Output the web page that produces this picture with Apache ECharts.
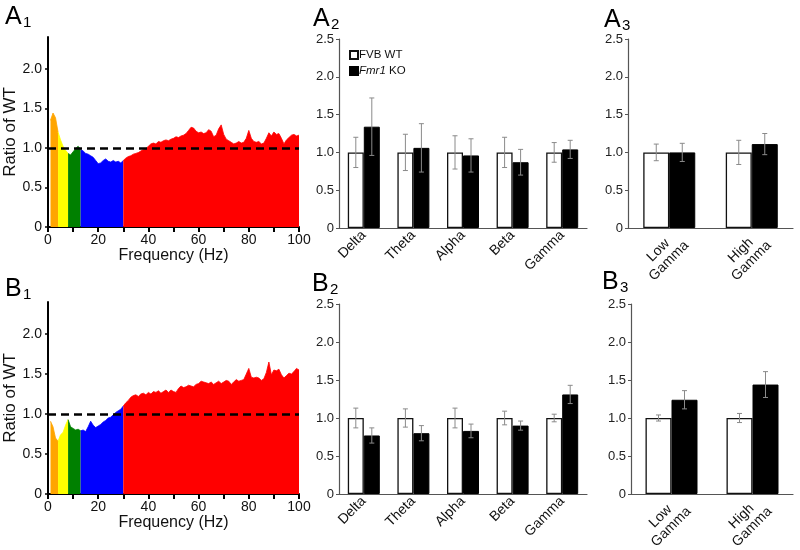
<!DOCTYPE html>
<html>
<head>
<meta charset="utf-8">
<script src="https://cdn.jsdelivr.net/npm/echarts@6/dist/echarts.min.js"></script>
<style>
html, body { margin: 0; padding: 0; background: #fff; }
#main { width: 800px; height: 550px; }
</style>
</head>
<body>
<div id="main"></div>
<script>
// spectra, ratio of WT, 1 Hz bins
var freqHz = [
	1,2,3,4,5,6,7,8,9,10,11,12,13,14,15,16,17,18,19,20,
	21,22,23,24,25,26,27,28,29,30,31,32,33,34,35,36,37,38,39,40,
	41,42,43,44,45,46,47,48,49,50,51,52,53,54,55,56,57,58,59,60,
	61,62,63,64,65,66,67,68,69,70,71,72,73,74,75,76,77,78,79,80,
	81,82,83,84,85,86,87,88,89,90,91,92,93,94,95,96,97,98,99,100
];
var a1Ratio = [
	1.35,1.44,1.38,1.20,1.10,1.02,0.97,0.93,0.91,0.95,
	0.99,1.02,0.98,0.96,0.93,0.92,0.90,0.88,0.84,0.80,
	0.81,0.84,0.86,0.83,0.82,0.84,0.82,0.83,0.81,0.84,
	0.87,0.89,0.90,0.92,0.93,0.94,0.96,0.98,0.99,1.02,
	1.05,1.06,1.05,1.08,1.07,1.09,1.10,1.09,1.11,1.12,
	1.14,1.13,1.15,1.16,1.18,1.22,1.26,1.25,1.21,1.19,
	1.20,1.18,1.19,1.23,1.21,1.14,1.16,1.24,1.29,1.17,
	1.11,1.09,1.07,1.05,1.06,1.08,1.06,1.07,1.12,1.22,
	1.12,1.08,1.07,1.08,1.05,1.06,1.12,1.19,1.15,1.20,
	1.17,1.18,1.12,1.05,1.10,1.13,1.16,1.17,1.15,1.16
];
var b1Ratio = [
	0.91,0.84,0.70,0.66,0.74,0.77,0.86,0.93,0.84,0.82,
	0.80,0.81,0.79,0.80,0.78,0.84,0.91,0.86,0.83,0.85,
	0.87,0.90,0.92,0.95,0.96,0.99,1.02,1.04,1.06,1.10,
	1.14,1.17,1.21,1.23,1.24,1.22,1.25,1.26,1.24,1.27,
	1.25,1.28,1.27,1.29,1.26,1.28,1.30,1.27,1.30,1.28,
	1.27,1.32,1.35,1.33,1.34,1.36,1.35,1.34,1.37,1.38,
	1.41,1.40,1.39,1.38,1.40,1.37,1.39,1.41,1.38,1.40,
	1.42,1.41,1.37,1.40,1.43,1.41,1.42,1.43,1.50,1.57,
	1.46,1.45,1.46,1.45,1.42,1.44,1.52,1.65,1.49,1.55,
	1.54,1.56,1.49,1.45,1.48,1.51,1.50,1.53,1.57,1.55
];
var bandEdges = [1, 4, 8, 13, 30, 100];
var bandColors = ['#ffa500', '#ffff00', '#008000', '#0000ff', '#ff0000'];

// band power bars (mean, error)
var bandNames = ['Delta', 'Theta', 'Alpha', 'Beta', 'Gamma'];
var gammaNames = ['Low\nGamma', 'High\nGamma'];
var a2WtMean = [1.00, 1.00, 1.00, 1.00, 1.00];
var a2WtErr  = [0.20, 0.24, 0.22, 0.20, 0.13];
var a2KoMean = [1.34, 1.06, 0.96, 0.87, 1.04];
var a2KoErr  = [0.38, 0.32, 0.22, 0.17, 0.12];
var a3WtMean = [1.00, 1.00];
var a3WtErr  = [0.11, 0.16];
var a3KoMean = [1.00, 1.11];
var a3KoErr  = [0.12, 0.14];
var b2WtMean = [1.00, 1.00, 1.00, 1.00, 1.00];
var b2WtErr  = [0.13, 0.12, 0.13, 0.09, 0.05];
var b2KoMean = [0.77, 0.80, 0.83, 0.90, 1.31];
var b2KoErr  = [0.10, 0.10, 0.09, 0.06, 0.12];
var b3WtMean = [1.00, 1.00];
var b3WtErr  = [0.04, 0.06];
var b3KoMean = [1.24, 1.44];
var b3KoErr  = [0.12, 0.17];

var FONT = 'Liberation Sans, Arial, sans-serif';
var oneDec = function( v ){ return v === 0 ? '0' : v.toFixed( 1 ); };

//spectrum panel: one filled line per band
function bandSeries( ratio, gi )
{
	var out = [];
	for( var b = 0; b < bandColors.length; b++ )
	{
		var pts = [];
		for( var i = 0; i < freqHz.length; i++ )
		{
			if( freqHz[i] >= bandEdges[b] && freqHz[i] <= bandEdges[b + 1] )
				pts.push( [ freqHz[i], ratio[i] ] );
		}
		var s = {
			type: 'line', xAxisIndex: gi, yAxisIndex: gi, data: pts,
			symbol: 'none', silent: true,
			lineStyle: { width: 0.8, color: bandColors[b] },
			areaStyle: { color: bandColors[b], opacity: 1 }
		};
		if( b === bandColors.length - 1 )
		{
			s.markLine = {
				silent: true, symbol: 'none', label: { show: false },
				lineStyle: { color: '#000', width: 2.5, type: [8, 5] },
				data: [ { yAxis: 1 } ]
			};
		}
		out.push( s );
	}
	return out;
}

function barSeries( name, gi, means, wt, bw )
{
	return {
		name: name, type: 'bar', xAxisIndex: gi, yAxisIndex: gi,
		data: means, barWidth: bw, barGap: '0%', silent: true,
		itemStyle: wt ? { color: '#fff', borderColor: '#111', borderWidth: 1.3 }
		              : { color: '#000', borderColor: '#000', borderWidth: 1 }
	};
}

function errSeries( gi, means, errs, offset )
{
	return {
		type: 'custom', xAxisIndex: gi, yAxisIndex: gi, z: 10, silent: true,
		data: means.map( function( m, i ){ return [ i, m - errs[i], m + errs[i] ]; } ),
		renderItem: function( params, api ){
			var lo = api.coord( [ api.value( 0 ), api.value( 1 ) ] );
			var hi = api.coord( [ api.value( 0 ), api.value( 2 ) ] );
			var x = lo[0] + offset;
			var st = { stroke: '#8a8a8a', lineWidth: 1 };
			return {
				type: 'group',
				children: [
					{ type: 'line', shape: { x1: x, y1: lo[1], x2: x, y2: hi[1] }, style: st },
					{ type: 'line', shape: { x1: x - 2.5, y1: lo[1], x2: x + 2.5, y2: lo[1] }, style: st },
					{ type: 'line', shape: { x1: x - 2.5, y1: hi[1], x2: x + 2.5, y2: hi[1] }, style: st }
				]
			};
		}
	};
}

function specX( gi )
{
	return {
		type: 'value', gridIndex: gi, min: 0, max: 100, interval: 10,
		name: 'Frequency (Hz)', nameLocation: 'middle', nameGap: 19,
		nameTextStyle: { fontFamily: FONT, fontSize: 16, color: '#111' },
		axisLine: { lineStyle: { color: '#000', width: 2 } },
		axisTick: { show: true, length: 5, lineStyle: { color: '#000', width: 2 },
			customValues: [0, 10, 20, 30, 40, 50, 60, 70, 80, 90, 100] },
		axisLabel: { fontFamily: FONT, fontSize: 14, color: '#111', margin: 6,
			customValues: [0, 20, 40, 60, 80, 100] },
		splitLine: { show: false }
	};
}
function specY( gi )
{
	return {
		type: 'value', gridIndex: gi, min: 0, max: 2.4, interval: 0.5,
		name: 'Ratio of WT', nameLocation: 'middle', nameGap: 28,
		nameTextStyle: { fontFamily: FONT, fontSize: 17, color: '#111' },
		axisLine: { show: true, lineStyle: { color: '#000', width: 2 } },
		axisTick: { show: true, length: 3, lineStyle: { color: '#000', width: 1.5 },
			customValues: [0, 0.5, 1, 1.5, 2] },
		axisLabel: { fontFamily: FONT, fontSize: 14, color: '#111', margin: 6, formatter: oneDec,
			customValues: [0, 0.5, 1, 1.5, 2] },
		splitLine: { show: false }
	};
}
function catX( gi, cats, twoLine )
{
	var lab = { fontFamily: FONT, fontSize: 14, color: '#111', rotate: 45, interval: 0, margin: 5 };
	if( twoLine )
	{
		lab.align = 'center';
		lab.verticalAlign = 'middle';
		lab.margin = 22;
		lab.lineHeight = 15;
		lab.padding = [0, 16, 0, 0];
	}
	return {
		type: 'category', gridIndex: gi, data: cats,
		axisLine: { lineStyle: { color: '#555', width: 1.2 } },
		axisTick: { show: false },
		axisLabel: lab
	};
}
function barY( gi )
{
	return {
		type: 'value', gridIndex: gi, min: 0, max: 2.5, interval: 0.5,
		axisLine: { show: true, lineStyle: { color: '#555', width: 1.2 } },
		axisTick: { show: true, length: 3, lineStyle: { color: '#555' } },
		axisLabel: { fontFamily: FONT, fontSize: 13, color: '#222', margin: 5, formatter: oneDec },
		splitLine: { show: false }
	};
}

function panelTitle( letter, sub, x, y )
{
	return [
		{ type: 'text', left: x, top: y, silent: true,
			style: { text: letter, fontFamily: FONT, fontSize: 25, fill: '#000' } },
		{ type: 'text', left: x + 18, top: y + 10, silent: true,
			style: { text: sub, fontFamily: FONT, fontSize: 15, fill: '#000' } }
	];
}

var chart = echarts.init( document.getElementById( 'main' ), null, { renderer: 'canvas' } );

var series = []
	.concat( bandSeries( a1Ratio, 0 ) )
	.concat( bandSeries( b1Ratio, 3 ) )
	.concat( [
		barSeries( 'FVB WT', 1, a2WtMean, true, 16 ),
		barSeries( 'Fmr1 KO', 1, a2KoMean, false, 16 ),
		errSeries( 1, a2WtMean, a2WtErr, -8 ),
		errSeries( 1, a2KoMean, a2KoErr, 8 ),
		barSeries( 'FVB WT', 2, a3WtMean, true, 26 ),
		barSeries( 'Fmr1 KO', 2, a3KoMean, false, 26 ),
		errSeries( 2, a3WtMean, a3WtErr, -13 ),
		errSeries( 2, a3KoMean, a3KoErr, 13 ),
		barSeries( 'FVB WT', 4, b2WtMean, true, 16 ),
		barSeries( 'Fmr1 KO', 4, b2KoMean, false, 16 ),
		errSeries( 4, b2WtMean, b2WtErr, -8 ),
		errSeries( 4, b2KoMean, b2KoErr, 8 ),
		barSeries( 'FVB WT', 5, b3WtMean, true, 26 ),
		barSeries( 'Fmr1 KO', 5, b3KoMean, false, 26 ),
		errSeries( 5, b3WtMean, b3WtErr, -13 ),
		errSeries( 5, b3KoMean, b3KoErr, 13 )
	] );

chart.setOption({
	animation: false,
	backgroundColor: '#fff',
	grid: [
		{ left: 48, top: 37, width: 251, height: 190, outerBoundsMode: 'none' },
		{ left: 339, top: 39, width: 248, height: 189, outerBoundsMode: 'none' },
		{ left: 628, top: 39, width: 165, height: 189, outerBoundsMode: 'none' },
		{ left: 48, top: 302, width: 251, height: 192, outerBoundsMode: 'none' },
		{ left: 339, top: 304, width: 248, height: 190, outerBoundsMode: 'none' },
		{ left: 631, top: 304, width: 162, height: 190, outerBoundsMode: 'none' }
	],
	xAxis: [ specX( 0 ), catX( 1, bandNames ), catX( 2, gammaNames, true ),
	         specX( 3 ), catX( 4, bandNames ), catX( 5, gammaNames, true ) ],
	yAxis: [ specY( 0 ), barY( 1 ), barY( 2 ), specY( 3 ), barY( 4 ), barY( 5 ) ],
	legend: {
		data: [ { name: 'FVB WT', icon: 'rect' }, { name: 'Fmr1 KO', icon: 'rect' } ],
		orient: 'vertical', left: 344, top: 44,
		itemWidth: 8, itemHeight: 8, itemGap: 4,
		selectedMode: false,
		formatter: function( name ){ return name === 'Fmr1 KO' ? '{i|Fmr1} KO' : name; },
		textStyle: { fontFamily: FONT, fontSize: 11.5, color: '#111', padding: [0, 0, 0, -4],
			rich: { i: { fontFamily: FONT, fontSize: 11.5, fontStyle: 'italic', color: '#111' } } }
	},
	graphic: []
		.concat( panelTitle( 'A', '1', 5, 5 ) )
		.concat( panelTitle( 'B', '1', 5, 277 ) )
		.concat( panelTitle( 'A', '2', 313, 7 ) )
		.concat( panelTitle( 'B', '2', 312, 272 ) )
		.concat( panelTitle( 'A', '3', 604, 8 ) )
		.concat( panelTitle( 'B', '3', 602, 270 ) ),
	series: series
});
</script>
</body>
</html>
